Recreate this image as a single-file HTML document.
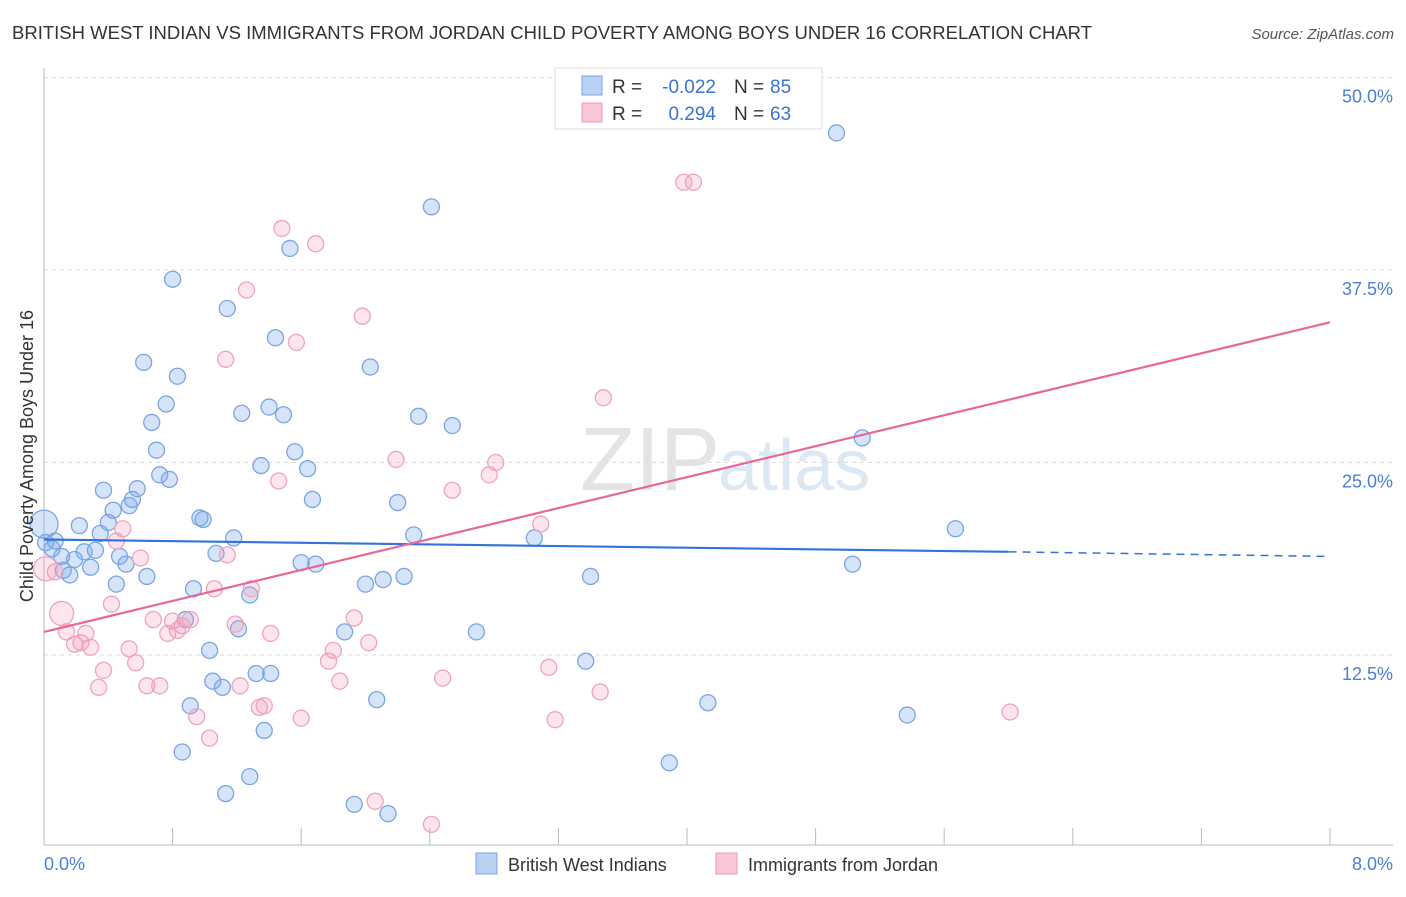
<!DOCTYPE html>
<html><head><meta charset="utf-8"><style>
body{margin:0;background:#fff;font-family:"Liberation Sans",sans-serif;}
svg text{font-family:"Liberation Sans",sans-serif;}
</style></head><body>
<svg width="1406" height="892" xmlns="http://www.w3.org/2000/svg">
<text x="12" y="39" font-size="18" fill="#333" textLength="1080" lengthAdjust="spacingAndGlyphs">BRITISH WEST INDIAN VS IMMIGRANTS FROM JORDAN CHILD POVERTY AMONG BOYS UNDER 16 CORRELATION CHART</text>
<text x="1394" y="39" font-size="15" fill="#555" text-anchor="end" font-style="italic">Source: ZipAtlas.com</text>
<text x="720" y="490" font-size="90" fill="#e4e4e4" text-anchor="end" font-family="Liberation Serif">ZIP</text>
<text x="718" y="490" font-size="72" fill="#dde8f5">atlas</text>
<g id="grid"></g>
<g id="axes"></g>
<g id="marks"></g>
<text x="33" y="456" font-size="18" fill="#333" text-anchor="middle" transform="rotate(-90 33 456)">Child Poverty Among Boys Under 16</text>
<text x="44" y="870" font-size="18" fill="#4a7fd4">0.0%</text>
<text x="1393" y="870" font-size="18" fill="#4a7fd4" text-anchor="end">8.0%</text>
<g>
<rect x="555" y="68" width="267" height="61" fill="#fff" stroke="#ddd"/>
<rect x="582" y="76" width="20" height="19" fill="#b9d1f3" stroke="#7ba3e0"/>
<rect x="582" y="103" width="20" height="19" fill="#f8c6d6" stroke="#ee9ab5"/>
<text x="612" y="93" font-size="19" fill="#333">R =</text>
<text x="716" y="93" font-size="19" fill="#3a73d0" text-anchor="end">-0.022</text>
<text x="734" y="93" font-size="19" fill="#333">N =</text>
<text x="770" y="93" font-size="19" fill="#3a73d0">85</text>
<text x="612" y="120" font-size="19" fill="#333">R =</text>
<text x="716" y="120" font-size="19" fill="#3a73d0" text-anchor="end">0.294</text>
<text x="734" y="120" font-size="19" fill="#333">N =</text>
<text x="770" y="120" font-size="19" fill="#3a73d0">63</text>
</g>
<g>
<rect x="476" y="853" width="21" height="21" fill="#b9d1f3" stroke="#7ba3e0"/>
<text x="508" y="871" font-size="18" fill="#333">British West Indians</text>
<rect x="716" y="853" width="21" height="21" fill="#f8c6d6" stroke="#ee9ab5"/>
<text x="748" y="871" font-size="18" fill="#333">Immigrants from Jordan</text>
</g>
</svg>
<script>
const yTicks=[12.5,25,37.5,50];
const yTickLabels=["12.5%","25.0%","37.5%","50.0%"];
const xTicks=[0,0.8,1.6,2.4,3.2,4.0,4.8,5.6,6.4,7.2,8.0];
const blueX=[4.93,2.41,1.53,0.80,1.14,1.44,0.62,2.03,0.83,0.76,1.23,1.40,1.49,2.33,0.67,2.54,5.09,0.70,1.56,1.35,1.64,0.72,0.78,0.37,0.58,0.55,1.67,0.53,2.20,0.43,0.97,0.99,0.40,0.22,5.67,0.35,1.18,2.30,3.05,0.07,0.01,0.05,0.32,0.25,0.11,0.47,1.07,0.19,0.51,1.60,1.69,5.03,0.29,0.12,0.16,0.64,2.24,2.11,3.40,0.45,2.00,0.93,1.28,0.88,1.87,1.21,2.69,1.03,3.37,1.32,1.41,1.05,1.11,2.07,4.13,0.91,5.37,1.37,0.86,3.89,1.28,1.13,1.93,2.14];
const blueY=[46.4,41.6,38.9,36.9,35.0,33.1,31.5,31.2,30.6,28.8,28.2,28.6,28.1,28.0,27.6,27.4,26.6,25.8,25.7,24.8,24.6,24.2,23.9,23.2,23.3,22.6,22.6,22.2,22.4,21.9,21.4,21.3,21.1,20.9,20.7,20.4,20.1,20.3,20.1,19.9,19.8,19.4,19.3,19.2,18.9,18.9,19.1,18.7,18.4,18.5,18.4,18.4,18.2,18.0,17.7,17.6,17.6,17.4,17.6,17.1,17.1,16.8,16.4,14.8,14.0,14.2,14.0,12.8,12.1,11.3,11.3,10.8,10.4,9.6,9.4,9.2,8.6,7.6,6.2,5.5,4.6,3.5,2.8,2.2];
const blueBigX=[0.0];const blueBigY=[21.0];
const pinkX=[3.98,4.04,1.48,1.69,1.26,1.98,1.57,1.13,3.48,2.19,2.81,2.54,2.77,1.46,0.49,3.09,0.45,0.60,1.14,0.07,1.06,1.29,0.42,1.93,0.68,0.80,0.91,0.86,0.77,0.83,1.19,1.41,0.14,0.26,0.19,2.02,0.29,0.53,1.80,0.23,1.77,0.57,3.14,0.37,2.48,1.84,0.34,0.64,0.72,1.22,3.46,1.34,1.37,0.95,1.60,3.18,6.01,1.03,2.06,2.41];
const pinkY=[43.2,43.2,40.2,39.2,36.2,34.5,32.8,31.7,29.2,25.2,25.0,23.2,24.2,23.8,20.7,21.0,19.9,18.8,19.0,17.9,16.8,16.8,15.8,14.9,14.8,14.7,14.8,14.4,13.9,14.1,14.5,13.9,14.0,13.9,13.2,13.3,13.0,12.9,12.8,13.3,12.1,12.0,11.7,11.5,11.0,10.8,10.4,10.5,10.5,10.5,10.1,9.1,9.2,8.5,8.4,8.3,8.8,7.1,3.0,1.5];
const pinkBigX=[0.01,0.11];const pinkBigY=[18.1,15.2];
const blueTrend=[20.0,19.2,18.9];
const pinkTrend=[14.0,34.1];
const NS="http://www.w3.org/2000/svg";
const X=v=>44+v/8*1286, Y=v=>847.5-v*15.4;
function mk(t,a,p){const e=document.createElementNS(NS,t);for(const k in a)e.setAttribute(k,a[k]);p.appendChild(e);return e;}
const grid=document.getElementById('grid'),axes=document.getElementById('axes'),marks=document.getElementById('marks');
yTicks.forEach((t,i)=>{
 const l=mk('line',{x1:44,x2:1393,y1:Y(t),y2:Y(t),stroke:'#ddd','stroke-dasharray':'4,4'},grid);
 
 
 const tx=mk('text',{x:1393,y:Y(t)+25,'font-size':18,fill:'#4a7fd4','text-anchor':'end'},grid);tx.textContent=yTickLabels[i];
 
 
});
const xa=mk('line',{x1:44,x2:1393,y1:845,y2:845,stroke:'#bbb'},axes);


const ya=mk('line',{x1:44,x2:44,y1:68,y2:845,stroke:'#bbb'},axes);


xTicks.forEach(t=>{const e=mk('line',{x1:X(t),x2:X(t),y1:828,y2:845,stroke:'#bbb'},axes);
 
 });
function dots(xs,ys,r,fill,stroke,name){xs.forEach((x,i)=>{const c=mk('circle',{cx:X(x),cy:Y(ys[i]),r:r,fill:fill,stroke:stroke,'stroke-width':1.3},marks);
 
 });}
dots(blueX,blueY,8,'rgba(120,165,235,0.3)','#7aa5e2','point-british-west-indian');
dots(blueBigX,blueBigY,14,'rgba(120,165,235,0.3)','#7aa5e2','point-british-west-indian');
dots(pinkX,pinkY,8,'rgba(245,150,180,0.25)','#f0a3bc','point-jordan');
dots(pinkBigX,pinkBigY,12,'rgba(245,150,180,0.25)','#f0a3bc','point-jordan');
const b1=mk('line',{x1:X(0),y1:Y(blueTrend[0]),x2:X(6),y2:Y(blueTrend[1]),stroke:'#2f74d6','stroke-width':2.2},marks);


const b2=mk('line',{x1:X(6),y1:Y(blueTrend[1]),x2:X(8),y2:Y(blueTrend[2]),stroke:'#2f74d6','stroke-width':1.5,'stroke-dasharray':'8,6'},marks);


const p1=mk('line',{x1:X(0),y1:Y(pinkTrend[0]),x2:X(8),y2:Y(pinkTrend[1]),stroke:'#e8679a','stroke-width':2.2},marks);


</script>
</body></html>
